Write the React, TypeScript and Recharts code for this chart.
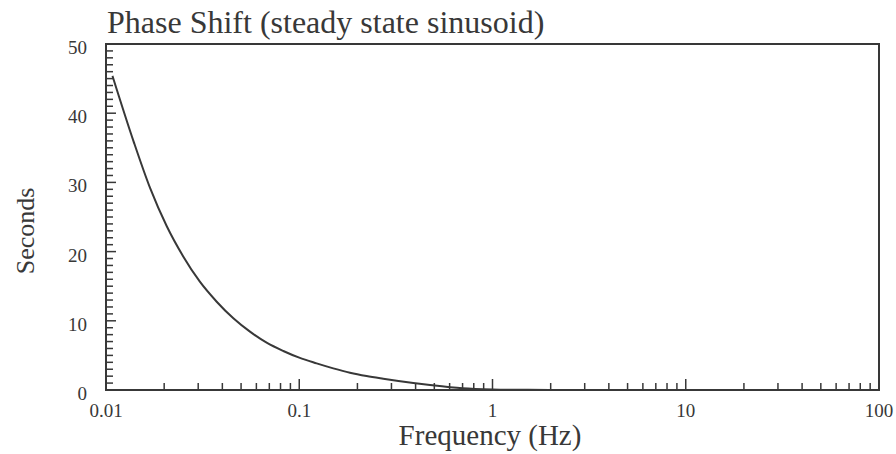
import { LineChart, Line, XAxis, YAxis, ReferenceArea } from "recharts";

// values
const freqs = [
  0.0108, 0.0139, 0.0169, 0.0206, 0.0251, 0.0306, 0.0374, 0.0456, 0.0556,
  0.0678, 0.0827, 0.1, 0.123, 0.15, 0.183, 0.223, 0.272, 0.326, 0.475, 0.7, 1,
  1.5, 2, 5, 10, 100,
];
const seconds = [
  45.4, 35.9, 29.2, 23.7, 19.3, 15.65, 12.76, 10.36, 8.43, 6.84, 5.64, 4.67,
  3.85, 3.13, 2.5, 2.02, 1.63, 1.3, 0.72, 0.25, 0.08, 0.02, 0, 0, 0, 0,
];

const decades = [0.01, 0.1, 1, 10, 100];
const decadeLabels = ["0.01", "0.1", "1", "10", "100"];
const yTicks = Array.from({ length: 51 }, (_, i) => i);
const yLabels = [0, 10, 20, 30, 40, 50];

const xTicks: number[] = [];
decades.slice(0, -1).forEach((d) => {
  for (let m = 1; m < 10; m++) xTicks.push(+(d * m).toPrecision(3));
});
xTicks.push(100);

const data = freqs.map((f, i) => ({ f, s: seconds[i] }));

const INK = "#383838";
const FONT = "'Liberation Serif', 'Times New Roman', serif";
const AXIS_W = 60;
const AXIS_H = 40;

function YTick(props: any) {
  const { x, y, payload } = props;
  const v = payload.value as number;
  const major = yLabels.includes(v);
  return (
    <g>
      <line x1={x} x2={x + (major ? 10 : 7)} y1={y} y2={y} stroke={INK} strokeWidth={1.5} />
      {major && (
        <text x={x - 19} y={y + 10} textAnchor="end" fontSize={19} fill={INK} fontFamily={FONT}>
          {v}
        </text>
      )}
    </g>
  );
}

function XTick(props: any) {
  const { x, y, payload } = props;
  const v = payload.value as number;
  const idx = decades.findIndex((d) => Math.abs(d - v) < d * 1e-6);
  const major = idx >= 0;
  return (
    <g>
      <line x1={x} x2={x} y1={y} y2={y - (major ? 11 : 7)} stroke={INK} strokeWidth={1.5} />
      {major && (
        <text x={x} y={y + 27} textAnchor="middle" fontSize={19} fill={INK} fontFamily={FONT}>
          {decadeLabels[idx]}
        </text>
      )}
    </g>
  );
}

export default function App() {
  return (
    <div style={{ position: "absolute", left: 0, top: 0, background: "#fff" }}>
      <LineChart
        width={896}
        height={454}
        data={data}
        margin={{ top: 44, right: 17, bottom: 64 - AXIS_H, left: 106 - AXIS_W }}
      >
        <XAxis
          dataKey="f"
          type="number"
          scale="log"
          domain={[0.01, 100]}
          ticks={xTicks}
          interval={0}
          height={AXIS_H}
          tickSize={0}
          tickMargin={0}
          tickLine={false}
          tick={(p: any) => <XTick {...p} />}
          axisLine={{ stroke: INK, strokeWidth: 2 }}
          allowDataOverflow
        />
        <YAxis
          type="number"
          domain={[0, 50]}
          ticks={yTicks}
          interval={0}
          width={AXIS_W}
          tickSize={0}
          tickMargin={0}
          tickLine={false}
          tick={(p: any) => <YTick {...p} />}
          axisLine={{ stroke: INK, strokeWidth: 2 }}
        />
        <ReferenceArea
          x1={0.01}
          x2={100}
          y1={0}
          y2={50}
          fill="none"
          fillOpacity={0}
          stroke={INK}
          strokeWidth={2}
        />
        <Line
          dataKey="s"
          type="monotone"
          stroke={INK}
          strokeWidth={2}
          dot={false}
          isAnimationActive={false}
        />
        <text x={107} y={33} fontSize={32} fill={INK} fontFamily={FONT}>
          Phase Shift (steady state sinusoid)
        </text>
        <text x={490} y={445} textAnchor="middle" fontSize={29} fill={INK} fontFamily={FONT}>
          Frequency (Hz)
        </text>
        <text
          x={25}
          y={231}
          transform="rotate(-90 25 231)"
          textAnchor="middle"
          dominantBaseline="central"
          fontSize={26}
          fill={INK}
          fontFamily={FONT}
        >
          Seconds
        </text>
      </LineChart>
    </div>
  );
}
